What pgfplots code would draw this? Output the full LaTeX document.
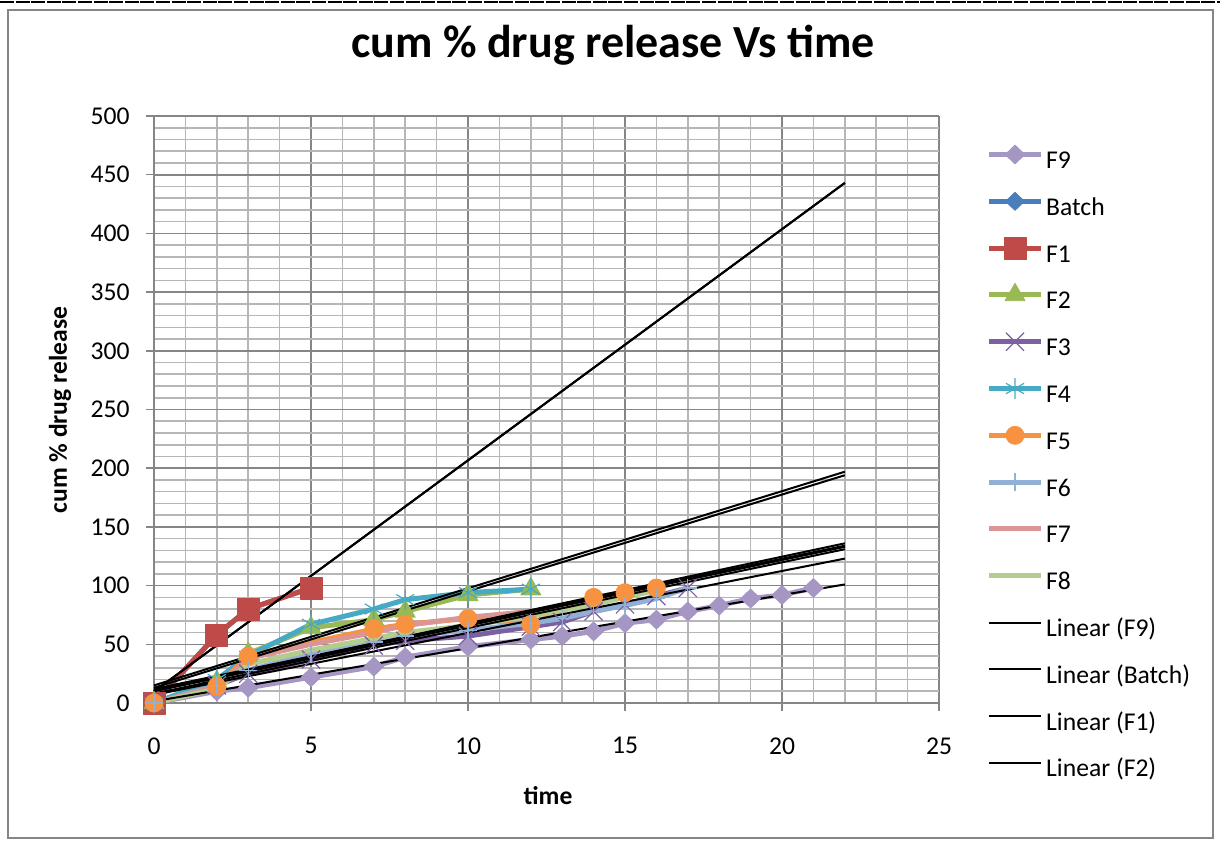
\documentclass[border=0pt]{standalone}
\usepackage{fontspec}
\setmainfont{Carlito}
\usepackage{pgfplots}
\pgfplotsset{compat=1.18}

\definecolor{cF9}{RGB}{166,150,196}
\definecolor{cBatch}{RGB}{74,126,187}
\definecolor{cF1}{RGB}{190,75,72}
\definecolor{cF2}{RGB}{152,185,84}
\definecolor{cF3}{RGB}{125,96,160}
\definecolor{cF4}{RGB}{70,170,197}
\definecolor{cF5}{RGB}{246,146,64}
\definecolor{cF6}{RGB}{145,176,214}
\definecolor{cF7}{RGB}{217,150,148}
\definecolor{cF8}{RGB}{180,205,140}
\definecolor{gridmaj}{RGB}{134,134,134}
\definecolor{gridmin}{RGB}{182,182,182}

\begin{document}
\begin{tikzpicture}
\useasboundingbox (0,0) rectangle (610pt,421pt);
% chart frame and top rule
\draw[black, line width=0.6pt, dash pattern=on 7pt off 0.8pt] (0,420pt) -- (610pt,420pt);
\draw[gridmaj, line width=0.75pt] (4pt,2pt) rectangle (606.5pt,416pt);

\begin{axis}[
  at={(77pt,69.5pt)}, anchor=south west,
  scale only axis, width=392.5pt, height=293.5pt,
  xmin=0, xmax=25, ymin=0, ymax=500,
  xtick={0,5,...,25}, ytick={0,50,...,500},
  minor x tick num=4, minor y tick num=4,
  grid=both,
  major grid style={color=gridmaj, line width=0.8pt},
  minor grid style={color=gridmin, line width=0.8pt},
  axis lines=left,
  axis line style={-, color=gridmaj, line width=1pt},
  tick align=outside, major tick length=4pt, minor tick length=0pt,
  tick style={color=gridmaj, line width=0.75pt},
  clip=false,
  /pgf/number format/assume math mode=true,
  tick label style={font=\fontsize{12.8}{14}\selectfont, black},
  yticklabel style={anchor=east, inner sep=0pt, xshift=-8pt},
  xticklabel style={anchor=north, inner sep=0pt, yshift=-13pt},
  title={\textbf{cum \% drug release Vs time}},
  title style={at={(axis description cs:0.585,1.1005)}, anchor=center, font=\fontsize{23}{26}\selectfont, inner sep=0pt},
  xlabel={\textbf{time}},
  xlabel style={at={(axis description cs:0.502,-0.158)}, anchor=center, font=\fontsize{12.8}{14}\selectfont, inner sep=0pt},
  ylabel={\textbf{cum \% drug release}},
  ylabel style={at={(axis description cs:-0.1197,0.499)}, anchor=center, rotate=0, font=\fontsize{12.8}{14}\selectfont, inner sep=0pt},
  legend image code/.code={%
    \draw[mark repeat=2,mark phase=2,#1] plot coordinates {(0pt,4pt)(13pt,4pt)(26pt,4pt)};
    \pgfresetboundingbox
    \pgfpathrectangle{\pgfpointorigin}{\pgfqpoint{26pt}{8pt}}%
    \pgfusepath{use as bounding box}},
  legend cell align=left,
  legend style={at={(axis description cs:1.0637,0.9480)}, anchor=north west,
    draw=none, fill=none, inner sep=0pt, outer sep=0pt,
    row sep=9.4pt, column sep=2.6pt,
    font=\fontsize{12.8}{14}\selectfont,
    nodes={inner sep=0pt, text height=9pt, text depth=3pt}},
  every axis plot/.append style={line width=2.5pt, line join=round},
]

% measured release profiles
\addplot[color=cF9, mark=diamond*, mark size=4.7pt, mark options={solid, line width=0.4pt, xscale=1.4, fill=cF9, draw=cF9}]
  coordinates {(0,0)(2,10)(3,13)(5,22)(7,31)(8,39)(10,48)(12,54)(13,57)(14,61)(15,68)(16,71)(17,78)(18,83)(19,89)(20,92)(21,98)};
\addlegendentry{F9}
\addplot[color=cBatch, mark=diamond*, mark size=4.5pt, mark options={solid, line width=0.4pt, xscale=1.4, fill=cBatch, draw=cBatch}]
  coordinates {(0,0)(2,58)(3,80)(5,98)};
\addlegendentry{Batch}
\addplot[color=cF1, mark=square*, mark size=5.5pt, mark options={solid, line width=0.4pt, fill=cF1, draw=cF1}]
  coordinates {(0,0)(2,58)(3,80)(5,98)};
\addlegendentry{F1}
\addplot[color=cF2, mark=triangle*, mark size=5.8pt, mark options={solid, line width=0.4pt, fill=cF2, draw=cF2}]
  coordinates {(0,0)(2,18)(3,42)(5,64)(7,71)(8,78)(10,92)(12,97)};
\addlegendentry{F2}
\addplot[color=cF3, mark=x, mark size=6.4pt, mark options={solid, line width=0.6pt, draw=cF3}]
  coordinates {(0,0)(2,15)(3,25)(5,37)(7,49)(8,53)(10,57)(12,65)(13,69)(14,78)(15,84)(16,91)(17,98)};
\addlegendentry{F3}
\addplot[color=cF4, mark=asterisk, mark size=5.2pt, mark options={solid, line width=0.6pt, draw=cF4}]
  coordinates {(0,0)(2,20)(3,40)(5,67)(7,80)(8,88)(10,94)(12,97)};
\addlegendentry{F4}
\addplot[color=cF5, mark=*, mark size=4.5pt, mark options={solid, line width=0.4pt, fill=cF5, draw=cF5}]
  coordinates {(0,0)(2,14)(3,40)(7,63)(8,67)(10,72)(12,67)(14,90)(15,94)(16,98)};
\addlegendentry{F5}
\addplot[color=cF6, mark=+, mark size=4.5pt, mark options={solid, line width=0.6pt, draw=cF6}]
  coordinates {(0,0)(2,15)(3,28)(5,42)(7,52)(8,57)(10,62)(12,68)(13,72)(14,78)(15,83)(16,89)(17,98)};
\addlegendentry{F6}
\addplot[color=cF7, no marks]
  coordinates {(0,0)(2,14)(3,38)(5,50)(7,60)(8,66)(10,73)(12,78)(13,80)};
\addlegendentry{F7}
\addplot[color=cF8, no marks]
  coordinates {(0,0)(2,12)(3,33)(5,45)(7,55)(8,60)(10,66)(12,74)(14,84)(16,96)};
\addlegendentry{F8}

% linear trend lines, forecast to t = 22
\addplot[black, line width=1pt, no marks] coordinates {(0,1.5)(22,101)};
\addlegendentry{Linear (F9)}
\addplot[black, line width=1pt, no marks] coordinates {(0,9.8)(22,443)};
\addlegendentry{Linear (Batch)}
\addplot[black, line width=1pt, no marks] coordinates {(0,9.8)(22,443)};
\addlegendentry{Linear (F1)}
\addplot[black, line width=1pt, no marks] coordinates {(0,13)(22,194)};
\addlegendentry{Linear (F2)}
\addplot[black, line width=1pt, no marks, forget plot] coordinates {(0,7)(22,123)};
\addplot[black, line width=1pt, no marks, forget plot] coordinates {(0,15)(22,197)};
\addplot[black, line width=1pt, no marks, forget plot] coordinates {(0,11)(22,136)};
\addplot[black, line width=1pt, no marks, forget plot] coordinates {(0,8)(22,131)};
\addplot[black, line width=1pt, no marks, forget plot] coordinates {(0,12)(22,134)};
\addplot[black, line width=1pt, no marks, forget plot] coordinates {(0,10)(22,133)};
\end{axis}
\end{tikzpicture}
\end{document}
